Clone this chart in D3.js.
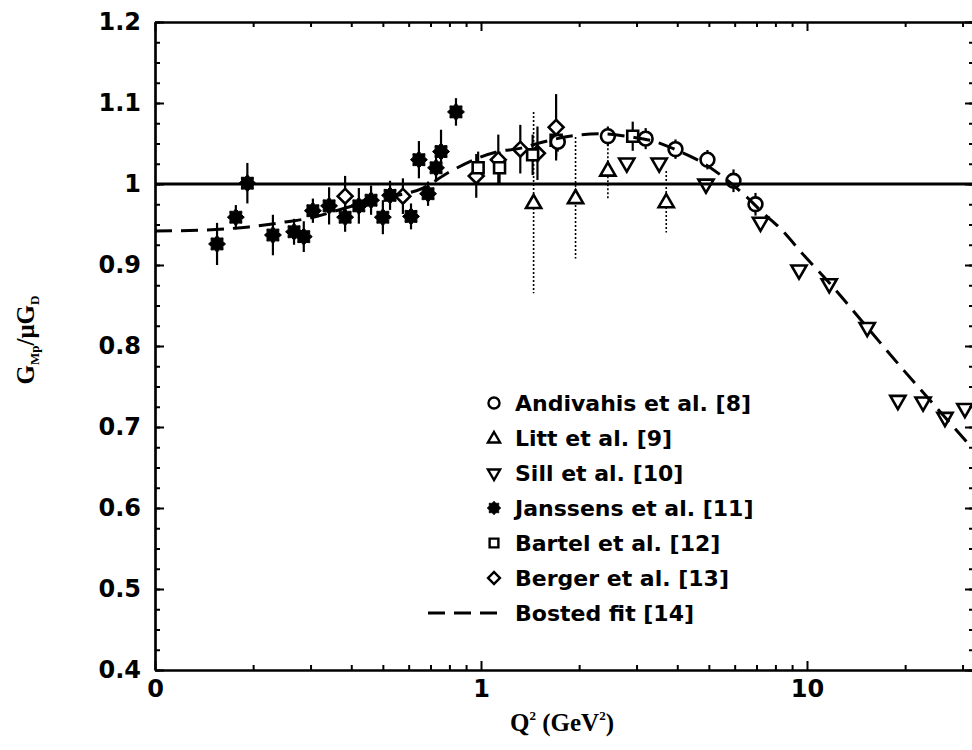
<!DOCTYPE html>
<html>
<head>
<meta charset="utf-8">
<script src="https://cdn.jsdelivr.net/npm/d3@7"></script>
<style>
  html, body { margin: 0; padding: 0; background: #fff; }
  svg { display: block; }
</style>
</head>
<body>
<svg id="chart" width="972" height="750"></svg>
<script>
'use strict';

// --- Data ---

// Andivahis et al. [8]  (open circles)
const andivahisQ2  = [1.72, 2.45, 3.2, 3.95, 4.95, 5.95, 6.95];
const andivahisG   = [1.052, 1.059, 1.056, 1.043, 1.030, 1.004, 0.975];
const andivahisErr = [0.012, 0.012, 0.013, 0.012, 0.012, 0.014, 0.014];

// Litt et al. [9]  (open up-triangles, dotted error bars)
const littQ2  = [1.45, 1.95, 2.45, 3.7];
const littG   = [0.977, 0.983, 1.017, 0.978];
const littErr = [0.112, 0.075, 0.037, 0.038];

// Sill et al. [10]  (open down-triangles)
const sillQ2 = [2.8, 3.52, 4.9, 7.2, 9.45, 11.7, 15.3, 19.0, 22.7, 26.5, 30.5];
const sillG  = [1.026, 1.026, 1.0, 0.953, 0.894, 0.877, 0.823, 0.733, 0.731, 0.712, 0.723];

// Janssens et al. [11]  (filled stars)
const janssensQ2  = [0.155, 0.177, 0.192, 0.230, 0.267, 0.286, 0.305, 0.342, 0.383, 0.422,
                     0.460, 0.500, 0.526, 0.610, 0.645, 0.688, 0.728, 0.754, 0.838];
const janssensG   = [0.926, 0.959, 1.001, 0.937, 0.941, 0.935, 0.967, 0.973, 0.959, 0.973,
                     0.980, 0.959, 0.986, 0.960, 1.030, 0.988, 1.020, 1.040, 1.089];
const janssensErr = [0.026, 0.015, 0.025, 0.025, 0.016, 0.019, 0.015, 0.023, 0.018, 0.022,
                     0.018, 0.021, 0.018, 0.016, 0.023, 0.015, 0.015, 0.027, 0.017];

// Bartel et al. [12]  (open squares)
const bartelQ2  = [0.98, 1.14, 1.44, 1.70, 2.92];
const bartelG   = [1.020, 1.020, 1.036, 1.054, 1.059];
const bartelErr = [0.020, 0.020, 0.025, 0.020, 0.018];

// Berger et al. [13]  (open diamonds)
const bergerQ2  = [0.383, 0.576, 0.967, 1.13, 1.32, 1.49, 1.70];
const bergerG   = [0.985, 0.985, 1.010, 1.030, 1.043, 1.038, 1.070];
const bergerErr = [0.025, 0.022, 0.027, 0.031, 0.030, 0.033, 0.041];

// Bosted fit [14]  (dashed curve)
const bostedQ2 = [0.1, 0.137, 0.194, 0.25, 0.299, 0.396, 0.526, 0.664, 0.801, 1.127, 1.317,
                  1.519, 1.95, 2.31, 2.90, 3.30, 4.08, 4.80, 5.68, 6.45, 7.3, 8.24, 9.83,
                  11.7, 15.3, 19.9, 26.5, 31.8];
const bostedG  = [0.942, 0.943, 0.947, 0.953, 0.958, 0.972, 0.984, 0.995, 1.015, 1.040, 1.044,
                  1.051, 1.060, 1.062, 1.058, 1.054, 1.040, 1.026, 1.005, 0.986, 0.965, 0.946,
                  0.911, 0.878, 0.823, 0.769, 0.712, 0.676];

// Axis ticks
const xMajorTicks  = [0.1, 1, 10];
const xMajorLabels = ['0', '1', '10'];
const xMinorTicks  = [0.2, 0.3, 0.4, 0.5, 0.6, 0.7, 0.8, 0.9, 2, 3, 4, 5, 6, 7, 8, 9, 20, 30];
const yMajorTicks  = [0.4, 0.5, 0.6, 0.7, 0.8, 0.9, 1.0, 1.1, 1.2];
const yMajorLabels = ['0.4', '0.5', '0.6', '0.7', '0.8', '0.9', '1', '1.1', '1.2'];

const legendLabels = [
  'Andivahis et al. [8]', 'Litt et al. [9]', 'Sill et al. [10]', 'Janssens et al. [11]',
  'Bartel et al. [12]', 'Berger et al. [13]', 'Bosted fit [14]'
];

// --- Layout ---
const plotLeft = 155, plotRight = 974, plotTop = 22, plotBottom = 670;
const SANS  = "'DejaVu Sans', sans-serif";
const SERIF = "'Liberation Serif', 'Times New Roman', serif";

const svg = d3.select('#chart');

const x = d3.scaleLog()
  .domain([0.1, 0.1 * Math.pow(10, (plotRight - plotLeft) / 326)])
  .range([plotLeft, plotRight]);

const y = d3.scaleLinear()
  .domain([0.4, 1.2])
  .range([plotBottom, plotTop]);

function zip(q2, g, err) {
  return q2.map((q, i) => ({ q2: q, g: g[i], err: err ? err[i] : 0 }));
}

const andivahis = zip(andivahisQ2, andivahisG, andivahisErr);
const litt      = zip(littQ2, littG, littErr);
const sill      = zip(sillQ2, sillG);
const janssens  = zip(janssensQ2, janssensG, janssensErr);
const bartel    = zip(bartelQ2, bartelG, bartelErr);
const berger    = zip(bergerQ2, bergerG, bergerErr);
const bosted    = zip(bostedQ2, bostedG);

// --- Symbols ---
const sym = {
  circle:  d3.symbol().type(d3.symbolCircle).size(150)(),
  up:      d3.symbol().type(d3.symbolTriangle).size(100)(),
  square:  d3.symbol().type(d3.symbolSquare).size(120)(),
  diamond: d3.symbol().type(d3.symbolSquare).size(110)(),
  star:    starPath(8, 8.5, 6.3)
};

function starPath(points, rOut, rIn) {
  const pts = [];
  for (let i = 0; i < points * 2; i++) {
    const r = i % 2 === 0 ? rOut : rIn;
    const a = Math.PI * i / points - Math.PI / 2;
    pts.push([r * Math.cos(a), r * Math.sin(a)]);
  }
  return 'M' + pts.map(p => p[0].toFixed(2) + ',' + p[1].toFixed(2)).join('L') + 'Z';
}

// transform for a given symbol kind
function symTransform(kind, px, py, scale) {
  const s = scale || 1;
  if (kind === 'down')    return `translate(${px},${py}) rotate(180) scale(${s})`;
  if (kind === 'up')      return `translate(${px},${py + 1}) scale(${s})`;
  if (kind === 'diamond') return `translate(${px},${py}) rotate(45) scale(${s})`;
  return `translate(${px},${py}) scale(${s})`;
}

function symPath(kind) {
  return kind === 'down' ? sym.up : sym[kind];
}

const series = [
  { data: janssens,  kind: 'star',    dotted: false },
  { data: berger,    kind: 'diamond', dotted: false },
  { data: bartel,    kind: 'square',  dotted: false },
  { data: litt,      kind: 'up',      dotted: true  },
  { data: sill,      kind: 'down',    dotted: false },
  { data: andivahis, kind: 'circle',  dotted: false }
];

// --- Error bars ---
const errG = svg.append('g').attr('class', 'errors');
series.forEach(s => {
  errG.selectAll(null)
    .data(s.data.filter(d => d.err > 0))
    .enter()
    .append('line')
    .attr('x1', d => x(d.q2))
    .attr('x2', d => x(d.q2))
    .attr('y1', d => y(d.g + d.err))
    .attr('y2', d => y(d.g - d.err))
    .attr('stroke', '#000')
    .attr('stroke-width', s.dotted ? 1.6 : 2.2)
    .attr('stroke-dasharray', s.dotted ? '2,2' : null);
});

// --- Markers ---
const markG = svg.append('g').attr('class', 'markers');
series.forEach(s => {
  markG.selectAll(null)
    .data(s.data)
    .enter()
    .append('path')
    .attr('d', symPath(s.kind))
    .attr('transform', d => symTransform(s.kind, x(d.q2), y(d.g)))
    .attr('fill', s.kind === 'star' ? '#000' : '#fff')
    .attr('stroke', '#000')
    .attr('stroke-width', s.kind === 'star' ? 1 : 2.6);
});

// --- Reference line at 1 ---
svg.append('line')
  .attr('x1', plotLeft)
  .attr('x2', plotRight)
  .attr('y1', y(1))
  .attr('y2', y(1))
  .attr('stroke', '#000')
  .attr('stroke-width', 3);

// --- Bosted fit ---
const fitLine = d3.line()
  .x(d => x(d.q2))
  .y(d => y(d.g))
  .curve(d3.curveMonotoneX);

svg.append('path')
  .datum(bosted)
  .attr('d', fitLine)
  .attr('fill', 'none')
  .attr('stroke', '#000')
  .attr('stroke-width', 3)
  .attr('stroke-dasharray', '17,9');

// --- Axes ---
function styleAxis(g) {
  g.select('.domain').attr('stroke', '#000').attr('stroke-width', 2.2);
  g.selectAll('.tick line').attr('stroke', '#000').attr('stroke-width', 2);
  g.selectAll('text')
    .attr('fill', '#000')
    .attr('font-family', SANS)
    .attr('font-weight', 'bold')
    .attr('font-size', '24px');
}

// bottom
svg.append('g')
  .attr('transform', `translate(0,${plotBottom})`)
  .call(d3.axisBottom(x).tickValues(xMinorTicks).tickFormat('').tickSizeInner(-5).tickSizeOuter(0))
  .call(styleAxis);
svg.append('g')
  .attr('transform', `translate(0,${plotBottom})`)
  .call(d3.axisBottom(x).tickValues(xMajorTicks)
    .tickFormat((d, i) => xMajorLabels[i]).tickSizeInner(-9).tickSizeOuter(0).tickPadding(10))
  .call(styleAxis);

// top
svg.append('g')
  .attr('transform', `translate(0,${plotTop})`)
  .call(d3.axisTop(x).tickValues(xMinorTicks).tickFormat('').tickSizeInner(-5).tickSizeOuter(0))
  .call(styleAxis);
svg.append('g')
  .attr('transform', `translate(0,${plotTop})`)
  .call(d3.axisTop(x).tickValues(xMajorTicks).tickFormat('').tickSizeInner(-9).tickSizeOuter(0))
  .call(styleAxis);

// left
const yMinorTicks = d3.range(0.4, 1.2001, 0.025);
svg.append('g')
  .attr('transform', `translate(${plotLeft},0)`)
  .call(d3.axisLeft(y).tickValues(yMinorTicks).tickFormat('').tickSizeInner(-5).tickSizeOuter(0))
  .call(styleAxis);
svg.append('g')
  .attr('transform', `translate(${plotLeft},0)`)
  .call(d3.axisLeft(y).tickValues(yMajorTicks)
    .tickFormat((d, i) => yMajorLabels[i]).tickSizeInner(-9).tickSizeOuter(0).tickPadding(14))
  .call(styleAxis);

// right (the frame line itself falls just outside the picture)
svg.append('g')
  .attr('transform', `translate(${plotRight},0)`)
  .call(d3.axisRight(y).tickValues(yMinorTicks).tickFormat('').tickSizeInner(-5).tickSizeOuter(0))
  .call(styleAxis);
svg.append('g')
  .attr('transform', `translate(${plotRight},0)`)
  .call(d3.axisRight(y).tickValues(yMajorTicks).tickFormat('').tickSizeInner(-9).tickSizeOuter(0))
  .call(styleAxis);

// --- Axis titles ---
const xTitle = svg.append('text')
  .attr('x', 562)
  .attr('y', 731)
  .attr('text-anchor', 'middle')
  .attr('font-family', SERIF)
  .attr('font-weight', 'bold')
  .attr('font-size', '25px');
xTitle.append('tspan').text('Q');
xTitle.append('tspan').attr('dy', -11).attr('font-size', '13px').text('2');
xTitle.append('tspan').attr('dy', 11).text(' (GeV');
xTitle.append('tspan').attr('dy', -11).attr('font-size', '13px').text('2');
xTitle.append('tspan').attr('dy', 11).text(')');

const yTitle = svg.append('text')
  .attr('transform', 'translate(34,340) rotate(-90)')
  .attr('text-anchor', 'middle')
  .attr('font-family', SERIF)
  .attr('font-weight', 'bold')
  .attr('font-size', '25px');
yTitle.append('tspan').text('G');
yTitle.append('tspan').attr('dy', 5).attr('font-size', '13px').text('Mp');
yTitle.append('tspan').attr('dy', -5).text('/\u03bcG');
yTitle.append('tspan').attr('dy', 5).attr('font-size', '13px').text('D');

// --- Legend ---
const legend = svg.append('g').attr('class', 'legend');
const legendKinds = ['circle', 'up', 'down', 'star', 'square', 'diamond', 'fit'];
const rowY = i => 403 + i * 35;

legendKinds.forEach((kind, i) => {
  const ly = rowY(i);
  if (kind === 'fit') {
    legend.append('line')
      .attr('x1', 428).attr('x2', 500)
      .attr('y1', ly).attr('y2', ly)
      .attr('stroke', '#000')
      .attr('stroke-width', 3)
      .attr('stroke-dasharray', '17,9');
  } else {
    legend.append('path')
      .attr('d', symPath(kind))
      .attr('transform', symTransform(kind, 494, ly, 0.8))
      .attr('fill', kind === 'star' ? '#000' : '#fff')
      .attr('stroke', '#000')
      .attr('stroke-width', kind === 'star' ? 1 : 3);
  }
  legend.append('text')
    .attr('x', 515)
    .attr('y', ly)
    .attr('dy', '0.36em')
    .attr('font-family', SANS)
    .attr('font-weight', 'bold')
    .attr('font-size', '22px')
    .attr('fill', '#000')
    .text(legendLabels[i]);
});
</script>
</body>
</html>
